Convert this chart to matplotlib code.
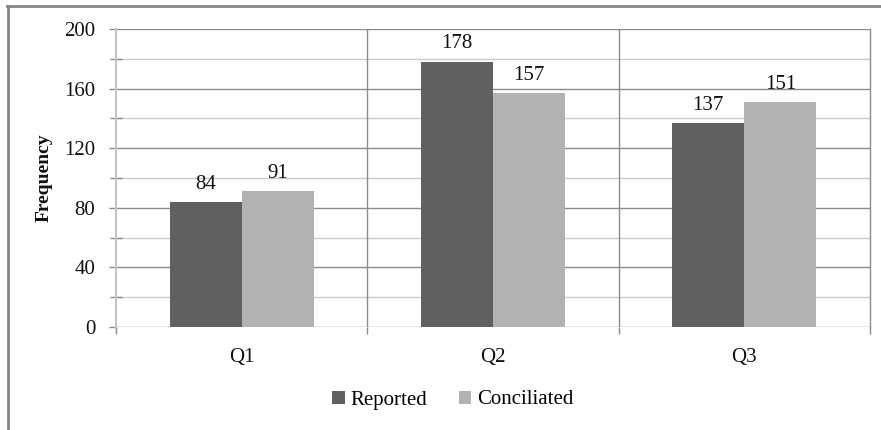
import matplotlib
matplotlib.use("Agg")
import matplotlib.pyplot as plt
import numpy as np
from matplotlib.lines import Line2D
from matplotlib.patches import Patch

categories = ["Q1", "Q2", "Q3"]
reported = [84, 178, 137]
conciliated = [91, 157, 151]
series_names = ["Reported", "Conciliated"]
y_ticks = [0, 40, 80, 120, 160, 200]

plt.rcParams["font.family"] = ["Liberation Serif", "DejaVu Serif"]

W, H = 881, 430
fig = plt.figure(figsize=(W / 100, H / 100), dpi=100)
ax = fig.add_axes([116 / W, (H - 327) / H, (870 - 116) / W, (327 - 29) / H])

dark = "#606060"
light = "#b2b2b2"
major_c = "#8c8c8c"
minor_c = "#cacaca"
txt_c = "#111111"
fs = 15

x = np.arange(len(categories))
bw = 0.287
b1 = ax.bar(x - bw / 2, reported, bw, color=dark, zorder=3)
b2 = ax.bar(x + bw / 2, conciliated, bw, color=light, zorder=3)

for bars, vals in ((b1, reported), (b2, conciliated)):
    for r, v in zip(bars, vals):
        ax.annotate(str(v), (r.get_x() + r.get_width() / 2, v), xytext=(0, 6),
                    textcoords="offset points", ha="center", va="bottom",
                    fontsize=fs, color=txt_c)

ax.set_xlim(-0.5, len(categories) - 0.5)
ax.set_ylim(0, 200)

# gridlines
for v in range(0, 201, 40):
    ax.axhline(v, color=major_c, lw=1.0, zorder=1)
for v in range(20, 200, 40):
    ax.axhline(v, color=minor_c, lw=1.0, zorder=1)
for b in np.arange(0.5, len(categories) - 0.5, 1):
    ax.axvline(b, color=major_c, lw=1.0, zorder=1)

for s in ("top", "bottom"):
    ax.spines[s].set_visible(False)
ax.spines["left"].set_color("#c4c4c4")
ax.spines["left"].set_linewidth(1.5)
ax.spines["right"].set_color(major_c)
ax.spines["right"].set_linewidth(1.0)

ax.set_yticks(y_ticks)
ax.set_yticklabels([str(t) for t in y_ticks])
ax.set_yticks(range(20, 200, 40), minor=True)
ax.tick_params(axis="y", which="major", direction="out", length=5, width=1,
               color=major_c, pad=10, labelsize=fs, labelcolor=txt_c)
ax.tick_params(axis="y", which="minor", direction="inout", length=8, width=1,
               color=major_c)

ax.set_xticks(np.arange(-0.5, len(categories), 1))
ax.set_xticklabels([])
ax.set_xticks(x, minor=True)
ax.set_xticklabels(categories, minor=True)
ax.tick_params(axis="x", which="major", direction="out", length=5, width=1,
               color=major_c)
ax.tick_params(axis="x", which="minor", length=0, pad=15, labelsize=fs,
               labelcolor=txt_c)

ax.set_ylabel("Frequency", fontsize=14, fontweight="bold", labelpad=8,
              color=txt_c)

handles = [Patch(facecolor=dark, edgecolor="none"), Patch(facecolor=light, edgecolor="none")]
fig.legend(handles, series_names, loc="center", bbox_to_anchor=(453 / W, 1 - 400 / H),
           ncol=2, frameon=False, fontsize=fs, handlelength=0.6, handleheight=0.6,
           handletextpad=0.3, columnspacing=1.5)

# chart frame
fig.add_artist(Line2D([7.5 / W, 7.5 / W], [0, 1 - 5.5 / H], transform=fig.transFigure,
                      color="#868686", lw=2))
fig.add_artist(Line2D([7 / W, 1], [1 - 5.5 / H, 1 - 5.5 / H], transform=fig.transFigure,
                      color="#868686", lw=2))

fig.savefig("out.png", dpi=100)
